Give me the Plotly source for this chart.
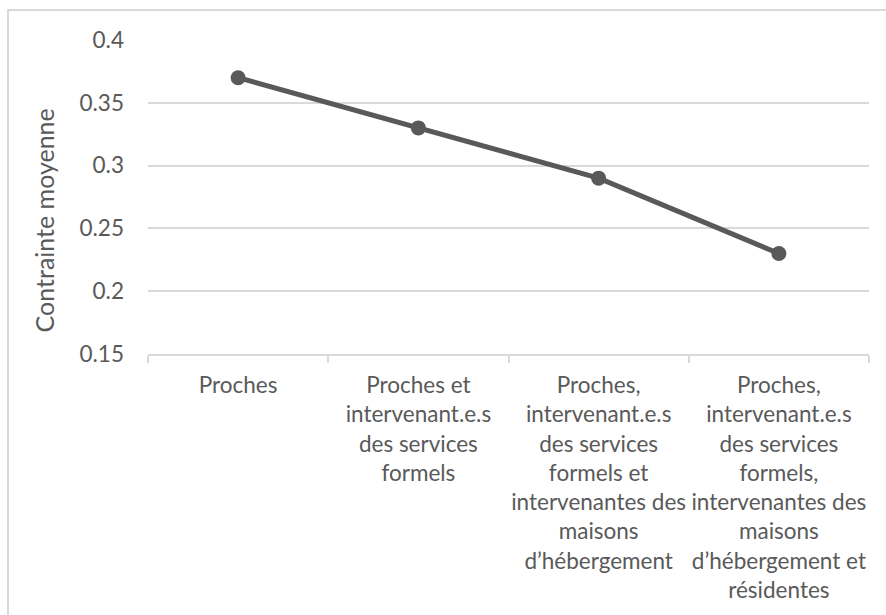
import plotly.graph_objects as go

# Mean strain by type of care network
categories = [
    "Proches",
    "Proches et<br>intervenant.e.s<br>des services<br>formels",
    "Proches,<br>intervenant.e.s<br>des services<br>formels et<br>intervenantes des<br>maisons<br>d’hébergement",
    "Proches,<br>intervenant.e.s<br>des services<br>formels,<br>intervenantes des<br>maisons<br>d’hébergement et<br>résidentes",
]
contrainte = [0.37, 0.33, 0.29, 0.23]
y_ticks = [0.15, 0.2, 0.25, 0.3, 0.35, 0.4]
y_tick_labels = ["0.15", "0.2", "0.25", "0.3", "0.35", "0.4"]
y_title = "Contrainte moyenne"

text_color = "#595959"
grid_color = "#d9d9d9"
font_family = "Lato, 'Open Sans', sans-serif"

# trailing non-breaking spaces keep the y labels clear of the gridlines
label_pad = "\u00a0" * 4

fig = go.Figure(
    go.Scatter(
        x=categories,
        y=contrainte,
        mode="lines+markers",
        line=dict(color="#595959", width=5),
        marker=dict(color="#595959", size=15),
        hoverinfo="x+y",
    )
)

fig.update_layout(
    width=886,
    height=615,
    margin=dict(l=148, r=17, t=40, b=261, autoexpand=False),
    paper_bgcolor="white",
    plot_bgcolor="white",
    showlegend=False,
    font=dict(family=font_family, size=22, color=text_color),
    shapes=[
        dict(
            type="rect", xref="paper", yref="paper",
            x0=-0.1942, x1=1.5, y0=1.0955, y1=-1.5,
            line=dict(color=grid_color, width=2),
            fillcolor="rgba(0,0,0,0)",
            layer="below",
        )
    ],
    annotations=[
        dict(
            text=y_title, textangle=-90,
            xref="paper", yref="paper", x=-0.145, y=0.427,
            xanchor="center", yanchor="middle", showarrow=False,
            font=dict(size=25, color=text_color),
        )
    ],
)

fig.update_xaxes(
    type="category",
    range=[-0.5, 3.5],
    automargin=False,
    showgrid=False,
    showline=True,
    linecolor=grid_color,
    linewidth=2,
    ticks="outside",
    tickson="boundaries",
    ticklen=7,
    tickwidth=2,
    tickcolor=grid_color,
    ticklabelstandoff=10,
    tickfont=dict(size=22.5, color=text_color),
    tickangle=0,
)

fig.update_yaxes(
    range=[0.15, 0.4],
    automargin=False,
    tickmode="array",
    tickvals=y_ticks,
    ticktext=[t + label_pad for t in y_tick_labels],
    showgrid=True,
    gridcolor=grid_color,
    gridwidth=1.5,
    zeroline=False,
    showline=False,
    ticks="",
    tickfont=dict(size=22.5, color=text_color),
)

fig.write_html("out.html")
